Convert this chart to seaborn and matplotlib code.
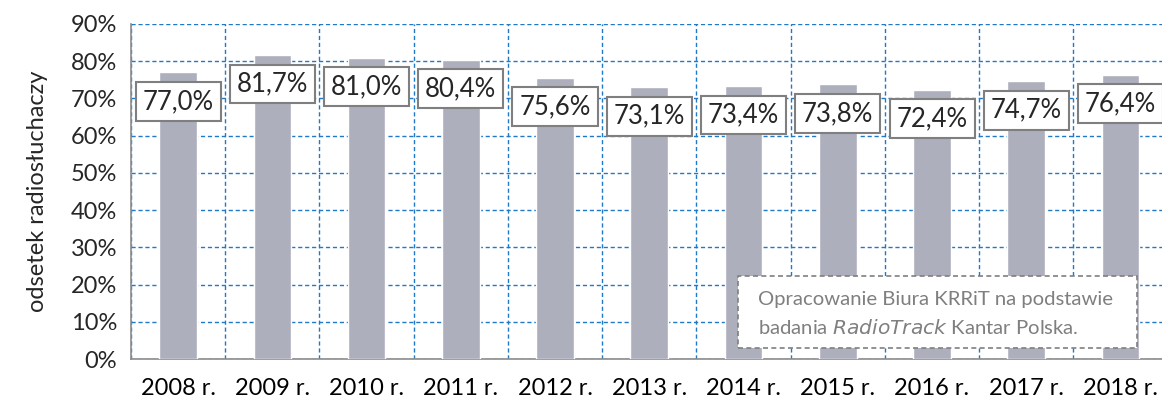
import matplotlib
matplotlib.use("Agg")
import matplotlib.pyplot as plt
import seaborn as sns
import pandas as pd
from matplotlib.ticker import FixedLocator, PercentFormatter

lata = ["2008 r.", "2009 r.", "2010 r.", "2011 r.", "2012 r.", "2013 r.",
        "2014 r.", "2015 r.", "2016 r.", "2017 r.", "2018 r."]
odsetek = [77.0, 81.7, 81.0, 80.4, 75.6, 73.1, 73.4, 73.8, 72.4, 74.7, 76.4]
etykiety = ["77,0%", "81,7%", "81,0%", "80,4%", "75,6%", "73,1%",
            "73,4%", "73,8%", "72,4%", "74,7%", "76,4%"]

df = pd.DataFrame({"rok": lata, "odsetek": odsetek})

sns.set_style("white")
plt.rcParams["font.family"] = ["Lato", "DejaVu Sans"]

fig = plt.figure(figsize=(11.62, 4.03), dpi=100)
ax = fig.add_axes([131 / 1162, 1 - 359 / 403, 1 - 131 / 1162, (359 - 24) / 403])

sns.barplot(data=df, x="rok", y="odsetek", color="#adafbc", saturation=1,
            width=0.4, ax=ax, zorder=3)

ax.set_ylim(0, 90)
ax.set_xlim(-0.5, 10.44)
ax.set_yticks(range(0, 91, 10))
ax.yaxis.set_major_formatter(PercentFormatter(decimals=0))
ax.xaxis.set_minor_locator(FixedLocator([i - 0.5 for i in range(12)]))

ax.grid(axis="y", which="major", color="#1f78c8", linestyle=(0, (3, 2)), linewidth=1, zorder=0)
ax.grid(axis="x", which="minor", color="#1f78c8", linestyle=(0, (3, 2)), linewidth=1, zorder=0)
ax.set_axisbelow(True)

for s in ["top", "right"]:
    ax.spines[s].set_visible(False)
for s in ["left", "bottom"]:
    ax.spines[s].set_color("#8c8c8c")
    ax.spines[s].set_linewidth(1.2)

ax.tick_params(axis="x", which="major", length=0, labelsize=17, pad=14, colors="black")
ax.tick_params(axis="x", which="minor", length=6, width=1.2, color="#8c8c8c", direction="out")
ax.tick_params(axis="y", which="major", length=6, width=1.2, color="#8c8c8c", labelsize=17, pad=4)

ax.set_xlabel("")
ax.set_ylabel("odsetek radiosłuchaczy", fontsize=17, labelpad=16)

for i, (v, t) in enumerate(zip(odsetek, etykiety)):
    ax.annotate(t, (i, v), xytext=(0, -21), textcoords="offset points",
                ha="center", va="center", fontsize=18.5, zorder=5,
                bbox=dict(boxstyle="square,pad=0.27", fc="white", ec="#7f7f7f", lw=1.5))

fig.text(758 / 1162, 1 - 300 / 403, "Opracowanie Biura KRRiT na podstawie",
         fontsize=14.6, color="#7f7f7f", va="center", zorder=6)
fig.text(758 / 1162, 1 - 327 / 403, "badania $\\it{RadioTrack}$ Kantar Polska.",
         fontsize=14.6, color="#7f7f7f", va="center", zorder=6)
box = plt.Rectangle((738 / 1162, 1 - 348 / 403), (1137 - 738) / 1162, (348 - 276) / 403,
                    transform=fig.transFigure, fc="white", ec="#7f7f7f", lw=1.2,
                    linestyle=(0, (3, 2)), zorder=5)
fig.patches.append(box)

fig.savefig("out.png", dpi=100)
